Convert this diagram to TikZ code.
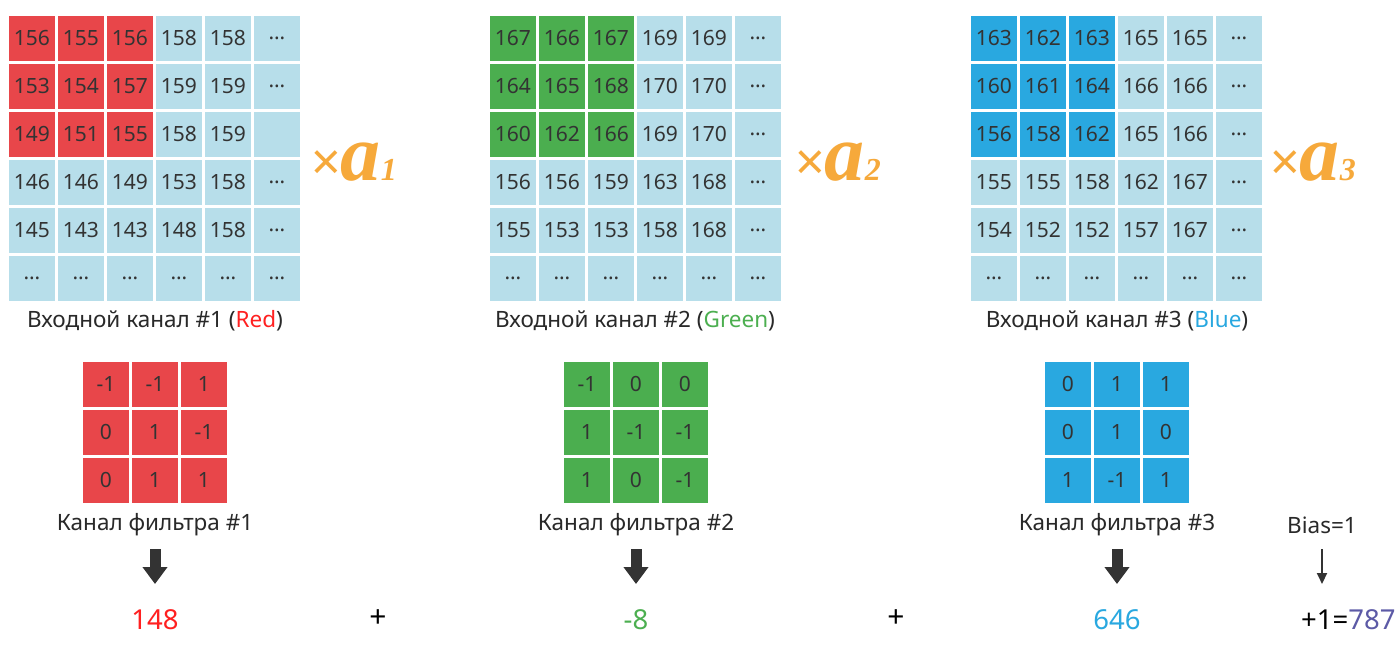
\documentclass[tikz,border=0pt]{standalone}
\usepackage{fontspec}
\setmainfont{Noto Sans}
\newfontfamily\serifbi{Liberation Serif}
\usetikzlibrary{arrows.meta}
\definecolor{cred}{HTML}{E8464A}
\definecolor{clb}{HTML}{B7DEEA}
\definecolor{cgreen}{HTML}{4BAE4F}
\definecolor{cblue}{HTML}{29A8E0}
\definecolor{corange}{HTML}{F6A93B}
\definecolor{ctext}{HTML}{333333}
\definecolor{tred}{HTML}{FF2020}
\definecolor{tgreen}{HTML}{4CAF50}
\definecolor{tpurple}{HTML}{5C5AA6}
\definecolor{arrowc}{HTML}{333333}
\newcommand{\mygrid}[5]{%
  \foreach \row [count=\j from 0] in {#5} {%
    \foreach \v [count=\i from 0] in \row {%
      \ifnum\i<3 \ifnum\j<3 \def\cc{#4}\else\def\cc{clb}\fi\else\def\cc{clb}\fi
      \node[cell, fill=\cc] (#1-\j-\i) at ({#2+49*\i},{#3+48*\j}) {\v};
    }%
  }%
}
\begin{document}
\begin{tikzpicture}[x=1pt,y=-1pt,
  cell/.style={minimum width=45.5pt, minimum height=44.5pt, inner sep=0pt, anchor=north west, text=ctext, font=\fontsize{21}{21}\selectfont},
  lab/.style={text=ctext!80!black, font=\fontsize{22.5}{22.5}\selectfont, inner sep=0pt},
  res/.style={font=\fontsize{27.5}{27.5}\selectfont, inner sep=0pt},
  plus/.style={font=\fontsize{30}{30}\selectfont, inner sep=0pt, text=black},
  mult/.style={text=corange, inner sep=0pt, anchor=base west},
  bigarrow/.style={draw=arrowc, line width=11pt, -{Triangle[width=24pt,length=17pt]}},
  thinarrow/.style={draw=arrowc, line width=2pt, -{Triangle[width=10pt,length=11pt]}}]
\useasboundingbox (0,0) rectangle (1400,650);
\fill[white] (0,0) rectangle (1400,650);
% input grids
\mygrid{ga}{9}{16}{cred}{{156,155,156,158,158,…},{153,154,157,159,159,…},{149,151,155,158,159,{}},{146,146,149,153,158,…},{145,143,143,148,158,…},{…,…,…,…,…,…}}
\mygrid{gb}{490}{16}{cgreen}{{167,166,167,169,169,…},{164,165,168,170,170,…},{160,162,166,169,170,…},{156,156,159,163,168,…},{155,153,153,158,168,…},{…,…,…,…,…,…}}
\mygrid{gc}{971}{16}{cblue}{{163,162,163,165,165,…},{160,161,164,166,166,…},{156,158,162,165,166,…},{155,155,158,162,167,…},{154,152,152,157,167,…},{…,…,…,…,…,…}}
% labels
\node[lab] (la) at (155,321) {Входной канал \#1 (\textcolor{tred}{Red})};
\node[lab] (lb) at (635,321) {Входной канал \#2 (\textcolor{tgreen}{Green})};
\node[lab] (lc) at (1117,321) {Входной канал \#3 (\textcolor{cblue}{Blue})};
% multipliers
\node[mult] (ma) at (311,180) {{\fontsize{52}{52}\selectfont ×}{\serifbi\bfseries\itshape\fontsize{80}{80}\selectfont a\fontsize{32}{32}\selectfont 1}};
\node[mult] (mb) at (795,180) {{\fontsize{52}{52}\selectfont ×}{\serifbi\bfseries\itshape\fontsize{80}{80}\selectfont a\fontsize{32}{32}\selectfont 2}};
\node[mult] (mc) at (1270,180) {{\fontsize{52}{52}\selectfont ×}{\serifbi\bfseries\itshape\fontsize{80}{80}\selectfont a\fontsize{32}{32}\selectfont 3}};
% filters
\mygrid{fa}{83}{362}{cred}{{-1,-1,1},{0,1,-1},{0,1,1}}
\mygrid{fb}{564}{362}{cgreen}{{-1,0,0},{1,-1,-1},{1,0,-1}}
\mygrid{fc}{1045}{362}{cblue}{{0,1,1},{0,1,0},{1,-1,1}}
\node[lab] (fla) at (155,525) {Канал фильтра \#1};
\node[lab] (flb) at (636,525) {Канал фильтра \#2};
\node[lab] (flc) at (1117,525) {Канал фильтра \#3};
\node[lab] (bias) at (1322,525) {Bias=1};
% results
\node[res, text=tred] (ra) at (155,620) {148};
\node[plus] (pa) at (378,619) {+};
\node[res, text=tgreen] (rb) at (636,620) {-8};
\node[plus] (pb) at (896,619) {+};
\node[res, text=cblue] (rc) at (1117,620) {646};
\node[res, anchor=west] (rd) at (1301,620) {\textcolor{black}{+1=}\textcolor{tpurple}{787}};
% arrows
\coordinate (aas) at (155,549); \coordinate (aae) at (155,584);
\coordinate (abs) at (636,549); \coordinate (abe) at (636,584);
\coordinate (acs) at (1117,549); \coordinate (ace) at (1117,584);
\coordinate (ads) at (1322,549); \coordinate (ade) at (1322,584);
\draw[bigarrow] (aas) -- (aae);
\draw[bigarrow] (abs) -- (abe);
\draw[bigarrow] (acs) -- (ace);
\draw[thinarrow] (ads) -- (ade);
\end{tikzpicture}
\end{document}
